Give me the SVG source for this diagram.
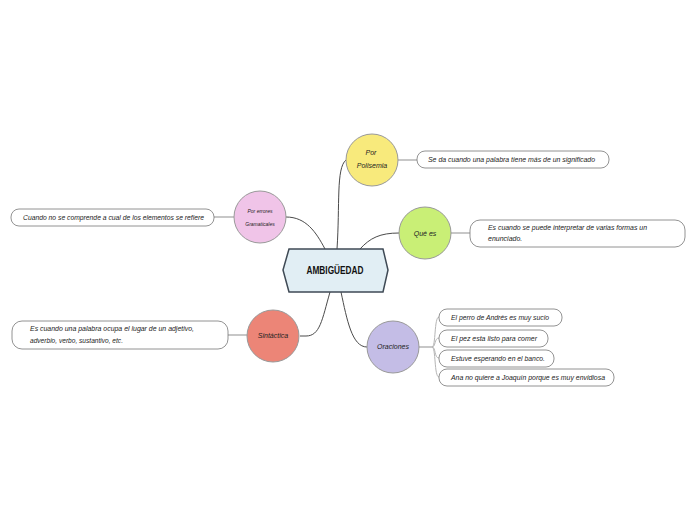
<svg xmlns="http://www.w3.org/2000/svg" width="696" height="520" viewBox="0 0 696 520">
<style>
.t{font-family:"Liberation Sans",Arial,sans-serif;font-style:italic;font-size:7px;fill:#222}
.c{text-anchor:middle}
.main{stroke:#4a4a4a;stroke-width:1;fill:none}
.sub{stroke:#b5b5b5;stroke-width:1.5;fill:none}
.box{fill:#fff;stroke:#777;stroke-width:0.8}
.node{stroke:#999;stroke-width:1}
</style>
<rect width="696" height="520" fill="#fff"/>
<g id="connectors">
<path class="main" d="M337,249 C340,205 336,168 346,160"/>
<path class="main" d="M360,249 C370,238 380,233 399,233"/>
<path class="main" d="M325,249 C316,232 306,217 286,217"/>
<path class="main" d="M330,292 C322,320 320,336 306,336 L300,336"/>
<path class="main" d="M341,292 C347,320 352,347 367,347"/>
<path class="sub" d="M398,160 L417,160"/>
<path class="sub" d="M451,233 L470,233"/>
<path class="sub" d="M234,217 L214,217"/>
<path class="sub" d="M247,335 L228,335"/>
<path class="sub" d="M419,347 L432,347"/>
<path class="sub" style="stroke-width:1" d="M432,347 C436,347 434,317 439,317"/>
<path class="sub" style="stroke-width:1" d="M432,347 C436,347 434,338 439,338"/>
<path class="sub" style="stroke-width:1" d="M432,347 C436,347 434,358 439,358"/>
<path class="sub" style="stroke-width:1" d="M432,347 C436,347 434,377 439,377"/>
</g>
<g id="center">
<polygon points="289,249 383,249 388,270 383,292 289,292 283,270" fill="#e1eef4" stroke="#3f4a55" stroke-width="1.5"/>
<text x="335" y="274" text-anchor="middle" font-family="Liberation Sans,Arial,sans-serif" font-weight="bold" font-size="10" textLength="57" lengthAdjust="spacingAndGlyphs" fill="#111">AMBIGÜEDAD</text>
</g>
<g id="polisemia">
<circle class="node" cx="372" cy="160" r="26" fill="#f8ea7c"/>
<text class="t c" x="371" y="155">Por</text>
<text class="t c" x="372" y="168">Polisemia</text>
</g>
<g id="polisemia-def">
<rect class="box" x="417" y="151" width="192" height="17" rx="8"/>
<text class="t" x="428" y="162" textLength="167" lengthAdjust="spacingAndGlyphs">Se da cuando una palabra tiene más de un significado</text>
</g>
<g id="quees">
<circle class="node" cx="425" cy="233" r="26" fill="#c9ef76"/>
<text class="t c" x="425" y="236">Qué es</text>
</g>
<g id="quees-def">
<rect class="box" x="470" y="220" width="215" height="27" rx="10"/>
<text class="t" x="488" y="230" textLength="159" lengthAdjust="spacingAndGlyphs">Es cuando se puede interpretar de varias formas un</text>
<text class="t" x="488" y="241">enunciado.</text>
</g>
<g id="errores">
<circle class="node" cx="260" cy="217" r="26" fill="#f0c4e8"/>
<text class="t c" x="260" y="213" style="font-size:5px">Por errores</text>
<text class="t c" x="260" y="226" style="font-size:5px">Gramaticales</text>
</g>
<g id="errores-def">
<rect class="box" x="11" y="209" width="203" height="17" rx="8"/>
<text class="t" x="23" y="220" textLength="181" lengthAdjust="spacingAndGlyphs">Cuando no se comprende a cual de los elementos se refiere</text>
</g>
<g id="sintactica">
<circle class="node" cx="273" cy="336" r="26" fill="#ec8577"/>
<text class="t c" x="273" y="338">Sintáctica</text>
</g>
<g id="sintactica-def">
<rect class="box" x="12" y="321" width="216" height="28" rx="10"/>
<text class="t" x="30" y="331" textLength="164" lengthAdjust="spacingAndGlyphs">Es cuando una palabra ocupa el lugar de un adjetivo,</text>
<text class="t" x="30" y="343" textLength="93" lengthAdjust="spacingAndGlyphs">adverbio, verbo, sustantivo, etc.</text>
</g>
<g id="oraciones">
<circle class="node" cx="393" cy="347" r="26" fill="#c4bde6"/>
<text class="t c" x="393" y="349">Oraciones</text>
</g>
<g id="oracion1">
<rect class="box" x="439" y="309" width="123" height="17" rx="8"/>
<text class="t" x="451" y="320" textLength="98" lengthAdjust="spacingAndGlyphs">El perro de Andrés es muy sucio</text>
</g>
<g id="oracion2">
<rect class="box" x="439" y="330" width="109" height="17" rx="8"/>
<text class="t" x="451" y="341" textLength="86" lengthAdjust="spacingAndGlyphs">El pez esta listo para comer</text>
</g>
<g id="oracion3">
<rect class="box" x="439" y="350" width="115" height="17" rx="8"/>
<text class="t" x="451" y="361" textLength="94" lengthAdjust="spacingAndGlyphs">Estuve esperando en el banco.</text>
</g>
<g id="oracion4">
<rect class="box" x="439" y="369" width="175" height="17" rx="8"/>
<text class="t" x="451" y="380" textLength="154" lengthAdjust="spacingAndGlyphs">Ana no quiere a Joaquín porque es muy envidiosa</text>
</g>
</svg>
